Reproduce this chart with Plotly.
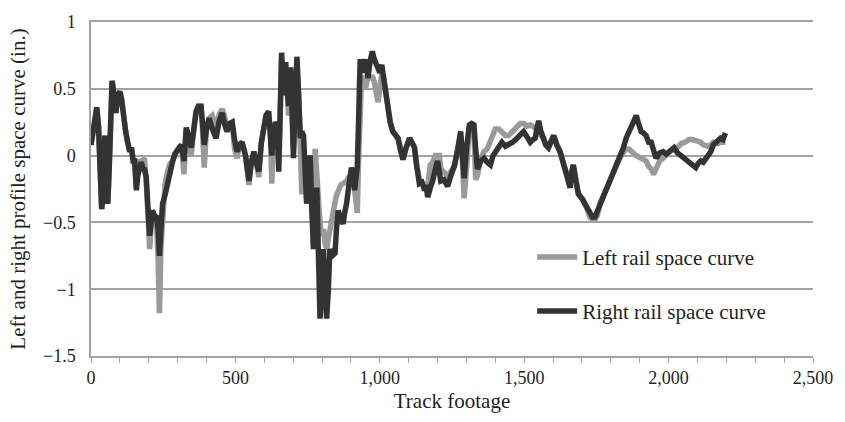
import plotly.graph_objects as go

# Track footage (ft) sampled along the survey
footage = [
    0, 8, 15, 20, 26, 31, 37, 42, 48, 53, 58, 63, 68, 73, 80, 86, 93, 100, 106, 112,
    120, 127, 134, 140, 146, 151, 157, 162, 168, 174, 179, 185, 191, 197, 203, 208, 213, 220, 227, 232,
    237, 242, 248, 256, 265, 274, 283, 290, 295, 305, 313, 322, 330, 338, 347, 355, 364, 372, 381, 386,
    392, 400, 409, 420, 433, 443, 454, 462, 471, 480, 489, 497, 506, 514, 523, 535, 547, 555, 564, 572,
    581, 590, 598, 606, 615, 621, 626, 632, 639, 645, 650, 655, 660, 664, 667, 670, 674, 679, 684, 688,
    691, 696, 701, 707, 713, 719, 725, 730, 736, 741, 747, 753, 759, 764, 770, 776, 782, 787, 793, 799,
    805, 810, 816, 822, 827, 835, 845, 850, 856, 865, 873, 879, 885, 893, 902, 908, 913, 918, 922, 927,
    932, 937, 942, 946, 950, 955, 959, 966, 974, 981, 988, 994, 1000, 1004, 1007, 1012, 1016, 1022, 1028, 1036,
    1045, 1054, 1063, 1071, 1080, 1090, 1103, 1111, 1120, 1128, 1137, 1146, 1155, 1160, 1166, 1175, 1183, 1192, 1200, 1206,
    1211, 1222, 1235, 1246, 1258, 1270, 1280, 1286, 1292, 1300, 1310, 1318, 1326, 1332, 1338, 1350, 1361, 1372, 1383, 1392,
    1400, 1412, 1423, 1435, 1446, 1460, 1475, 1486, 1498, 1510, 1521, 1530, 1538, 1544, 1550, 1558, 1567, 1575, 1584, 1593,
    1602, 1613, 1624, 1636, 1648, 1654, 1659, 1665, 1670, 1680, 1688, 1700, 1710, 1718, 1727, 1736, 1745, 1753, 1762, 1774,
    1785, 1796, 1808, 1820, 1831, 1842, 1853, 1862, 1871, 1880, 1888, 1896, 1905, 1913, 1922, 1931, 1940, 1948, 1957, 1969,
    1981, 1992, 2002, 2010, 2019, 2031, 2043, 2057, 2071, 2083, 2094, 2102, 2111, 2120, 2129, 2137, 2146, 2155, 2163, 2172,
    2180, 2188, 2197,
]

# Right rail profile space curve (in.)
right_rail = [
    0.08, 0.22, 0.30, 0.36, 0.22, -0.10, -0.40, -0.30, 0.15, -0.20, -0.36, -0.10, 0.30, 0.56, 0.45, 0.32, 0.45, 0.48, 0.42, 0.30,
    0.18, 0.10, 0.03, 0.06, -0.04, -0.04, -0.26, -0.15, -0.07, -0.05, -0.09, -0.10, -0.16, -0.35, -0.60, -0.50, -0.41, -0.45, -0.46, -0.55,
    -0.75, -0.55, -0.36, -0.30, -0.21, -0.10, -0.04, 0.01, 0.03, 0.06, 0.08, -0.04, 0.21, 0.14, 0.06, 0.18, 0.33, 0.37, 0.37, 0.25,
    0.08, 0.20, 0.28, 0.20, 0.13, 0.25, 0.32, 0.24, 0.18, 0.24, 0.25, 0.12, 0.03, 0.08, 0.10, 0.00, -0.19, -0.05, 0.03, -0.05,
    -0.12, 0.10, 0.23, 0.30, 0.33, 0.20, 0.00, 0.15, 0.25, 0.22, -0.12, 0.30, 0.77, 0.60, 0.45, 0.62, 0.70, 0.55, 0.37, 0.55,
    0.66, 0.35, -0.02, 0.40, 0.74, 0.45, 0.13, 0.18, 0.15, -0.10, -0.36, -0.10, 0.00, -0.35, -0.70, -0.45, -0.24, -0.70, -1.22, -1.00,
    -0.70, -1.00, -1.22, -1.00, -0.70, -0.75, -0.73, -0.55, -0.41, -0.48, -0.51, -0.42, -0.36, -0.22, -0.09, -0.15, -0.26, -0.15, -0.09, 0.30,
    0.72, 0.68, 0.62, 0.68, 0.72, 0.65, 0.58, 0.70, 0.78, 0.72, 0.68, 0.64, 0.62, 0.66, 0.68, 0.60, 0.53, 0.45, 0.35, 0.25,
    0.18, 0.15, 0.13, 0.05, -0.03, 0.05, 0.13, 0.10, 0.06, -0.08, -0.21, -0.20, -0.26, -0.22, -0.31, -0.24, -0.19, -0.10, -0.04, -0.12,
    -0.19, -0.18, -0.23, -0.15, -0.08, 0.05, 0.18, 0.00, -0.17, 0.05, 0.23, 0.24, 0.23, 0.05, -0.10, -0.04, -0.02, -0.05, -0.07, 0.00,
    0.03, 0.06, 0.10, 0.07, 0.08, 0.10, 0.13, 0.15, 0.18, 0.14, 0.10, 0.12, 0.13, 0.20, 0.26, 0.18, 0.13, 0.08, 0.06, 0.12,
    0.15, 0.08, 0.03, -0.06, -0.16, -0.22, -0.24, -0.12, -0.07, -0.20, -0.29, -0.32, -0.36, -0.40, -0.43, -0.46, -0.46, -0.42, -0.36, -0.30,
    -0.26, -0.18, -0.12, -0.06, -0.02, 0.05, 0.13, 0.18, 0.23, 0.26, 0.30, 0.24, 0.18, 0.17, 0.15, 0.10, 0.10, 0.04, -0.02, 0.02,
    0.03, 0.01, 0.03, 0.05, 0.06, 0.02, 0.00, -0.02, -0.04, -0.07, -0.09, -0.06, -0.04, -0.05, -0.02, 0.01, 0.03, 0.08, 0.10, 0.12,
    0.13, 0.12, 0.17,
]

# Left rail profile space curve (in.)
left_rail = [
    0.08, 0.22, 0.30, 0.36, 0.22, -0.10, -0.40, -0.30, 0.15, -0.20, -0.36, -0.10, 0.30, 0.56, 0.45, 0.32, 0.45, 0.48, 0.42, 0.30,
    0.18, 0.10, 0.03, 0.06, -0.04, -0.04, -0.22, -0.12, -0.03, -0.05, -0.04, -0.02, -0.18, -0.40, -0.70, -0.55, -0.45, -0.47, -0.50, -0.75,
    -1.18, -0.70, -0.40, -0.22, -0.12, -0.06, -0.04, 0.01, 0.03, 0.06, 0.08, -0.14, 0.20, 0.10, 0.00, 0.18, 0.33, 0.37, 0.37, 0.20,
    -0.09, 0.20, 0.28, 0.30, 0.20, 0.30, 0.35, 0.30, 0.20, 0.24, 0.25, 0.05, -0.02, 0.08, 0.10, 0.00, -0.22, -0.05, 0.00, -0.05,
    -0.16, 0.10, 0.23, 0.30, 0.33, 0.20, -0.21, 0.15, 0.25, 0.22, -0.05, 0.30, 0.72, 0.60, 0.45, 0.62, 0.66, 0.50, 0.30, 0.55,
    0.62, 0.35, 0.05, 0.40, 0.70, 0.45, 0.05, -0.29, 0.00, -0.15, -0.36, 0.00, -0.10, -0.40, -0.55, 0.05, -0.15, -0.45, -0.50, -0.60,
    -0.55, -0.65, -0.70, -0.62, -0.55, -0.45, -0.35, -0.30, -0.26, -0.22, -0.21, -0.20, -0.19, -0.16, -0.14, -0.16, -0.30, -0.40, -0.43, 0.00,
    0.55, 0.60, 0.55, 0.52, 0.50, 0.55, 0.58, 0.58, 0.60, 0.55, 0.45, 0.40, 0.50, 0.60, 0.62, 0.60, 0.53, 0.45, 0.35, 0.25,
    0.18, 0.15, 0.13, 0.05, -0.03, 0.05, 0.13, 0.10, 0.06, -0.08, -0.18, -0.20, -0.24, -0.22, -0.22, -0.07, -0.05, 0.00, 0.00, 0.00,
    -0.10, -0.12, -0.15, -0.12, -0.08, 0.05, 0.15, -0.05, -0.32, -0.10, 0.20, 0.22, 0.18, -0.18, -0.15, -0.02, 0.03, 0.05, 0.12, 0.18,
    0.20, 0.20, 0.18, 0.15, 0.15, 0.18, 0.22, 0.24, 0.24, 0.22, 0.23, 0.22, 0.20, 0.20, 0.20, 0.15, 0.13, 0.08, 0.06, 0.12,
    0.15, 0.08, 0.03, -0.06, -0.16, -0.18, -0.20, -0.12, -0.07, -0.20, -0.29, -0.32, -0.36, -0.40, -0.46, -0.48, -0.48, -0.45, -0.36, -0.30,
    -0.26, -0.18, -0.12, -0.06, -0.02, 0.02, 0.05, 0.05, 0.03, 0.02, 0.00, -0.01, -0.02, -0.03, -0.04, -0.08, -0.10, -0.14, -0.10, -0.04,
    -0.02, 0.01, 0.03, 0.04, 0.04, 0.06, 0.09, 0.10, 0.12, 0.12, 0.11, 0.10, 0.10, 0.08, 0.07, 0.07, 0.08, 0.10, 0.10, 0.09,
    0.10, 0.10, 0.10,
]

x_tick_vals = [0, 500, 1000, 1500, 2000, 2500]
x_tick_text = ["0", "500", "1,000", "1,500", "2,000", "2,500"]
y_tick_vals = [-1.5, -1, -0.5, 0, 0.5, 1]
y_tick_text = ["\u22121.5", "\u22121", "\u22120.5", "0", "0.5", "1"]

FONT = "Liberation Serif"
GRID = "#a3a3a3"
TEXT = "#231f20"
TICK_SIZE = 18
LABEL_SIZE = 21

fig = go.Figure()
fig.add_trace(go.Scatter(
    x=footage, y=left_rail, mode="lines", name="Left rail space curve",
    line=dict(color="#9a9a9a", width=5.5), legend="legend",
))
fig.add_trace(go.Scatter(
    x=footage, y=right_rail, mode="lines", name="Right rail space curve",
    line=dict(color="#333333", width=5.5), legend="legend2",
))

legend_style = dict(
    xanchor="left", yanchor="middle", bgcolor="rgba(0,0,0,0)",
    font=dict(family=FONT, size=LABEL_SIZE, color=TEXT), itemwidth=40,
)
fig.update_layout(
    width=845, height=422,
    margin=dict(l=91, r=27, t=15, b=66),
    paper_bgcolor="white", plot_bgcolor="white",
    font=dict(family=FONT, size=LABEL_SIZE, color=TEXT),
    showlegend=True,
    legend=dict(x=0.611, y=0.295, **legend_style),
    legend2=dict(x=0.611, y=0.134, **legend_style),
    xaxis=dict(
        range=[0, 2500], tickvals=x_tick_vals, ticktext=x_tick_text,
        showgrid=False, zeroline=False,
        showline=True, mirror=True, linecolor=GRID, linewidth=1.5,
        ticks="outside", ticklen=5, tickcolor=GRID, tickwidth=1.2,
        minor=dict(dtick=100, ticks="outside", ticklen=5, tickcolor=GRID, tickwidth=1.2, showgrid=False),
        tickfont=dict(family=FONT, size=TICK_SIZE, color=TEXT),
        title=dict(text="Track footage", font=dict(family=FONT, size=LABEL_SIZE, color=TEXT), standoff=6),
    ),
    yaxis=dict(
        range=[-1.5, 1], tickvals=y_tick_vals, ticktext=y_tick_text,
        showgrid=True, gridcolor=GRID, gridwidth=1.5,
        zeroline=False, showline=True, linecolor=GRID, linewidth=1.5,
        ticks="", ticklabelstandoff=10,
        tickfont=dict(family=FONT, size=TICK_SIZE, color=TEXT),
        title=dict(text="Left and right profile space curve (in.)",
                   font=dict(family=FONT, size=LABEL_SIZE, color=TEXT), standoff=12),
    ),
)

fig.write_html("out.html")
